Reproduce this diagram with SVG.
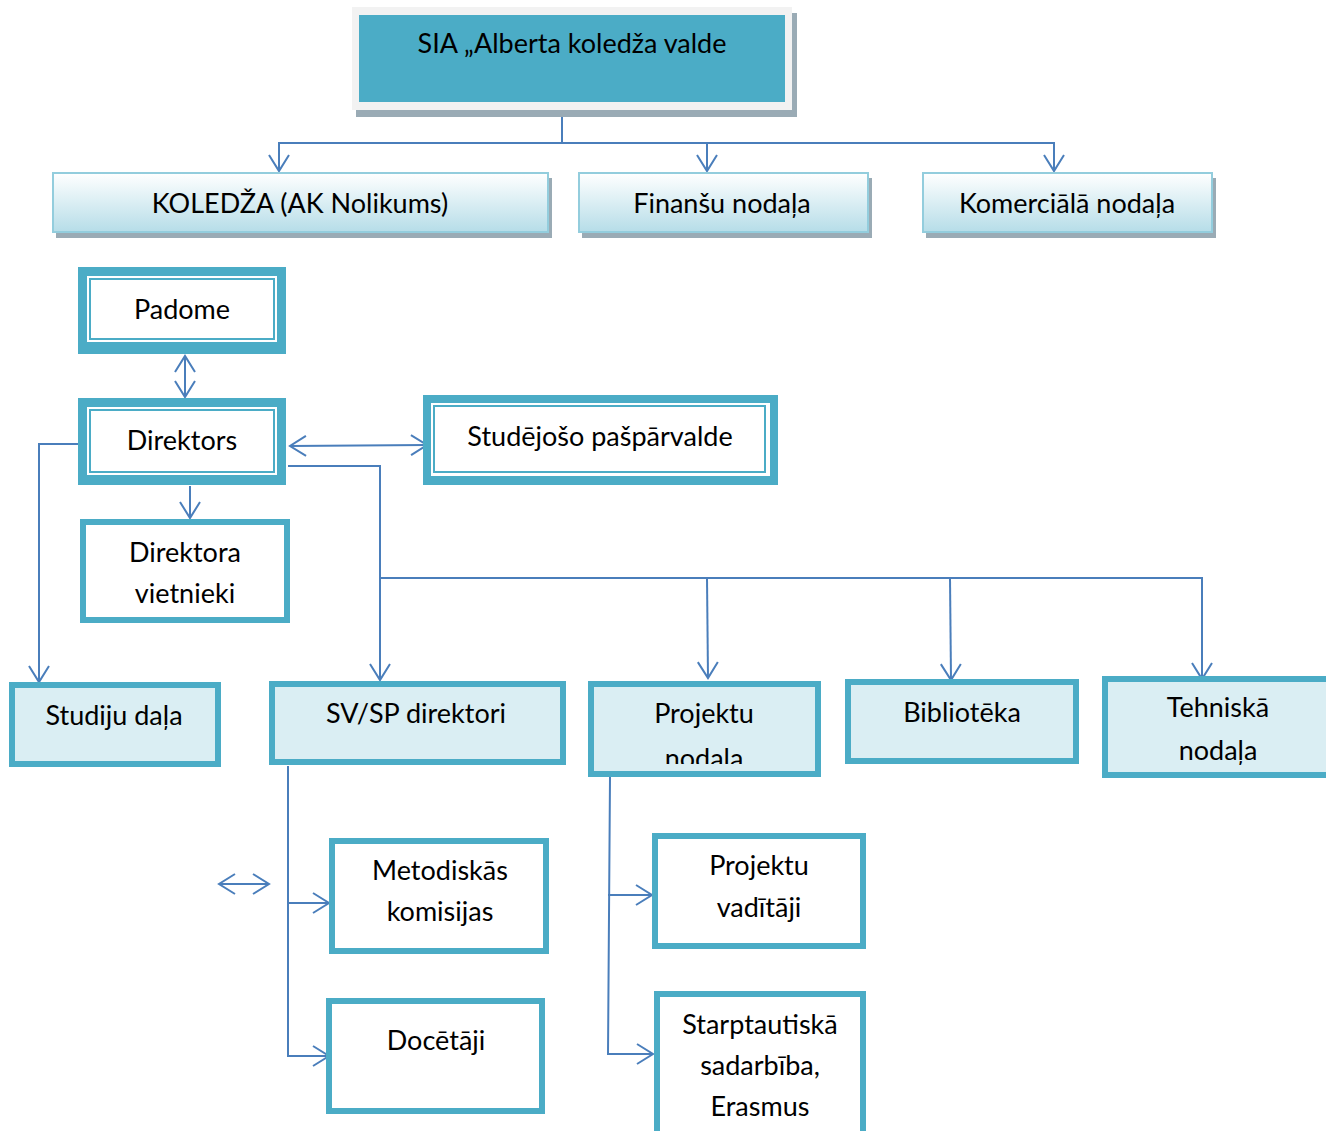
<svg xmlns="http://www.w3.org/2000/svg" width="1326" height="1131" viewBox="0 0 1326 1131">
<defs>
<style>
text{font-family:Lato,"Open Sans","Liberation Sans",sans-serif;font-size:27px;fill:#000;text-anchor:middle}
.c{fill:none;stroke:#4a7ebb;stroke-width:2}
.a{marker-end:url(#ah)}
.b{marker-start:url(#ah);marker-end:url(#ah)}
.sh{fill:#9aabb5}
.g{fill:url(#grad);stroke:#93cddd;stroke-width:2}
.tk{fill:#4bacc6}
.thin{fill:none;stroke:#4bacc6;stroke-width:2}
.lb{fill:#daeef3;stroke:#4bacc6;stroke-width:6}
.wb{fill:#fff;stroke:#4bacc6;stroke-width:6}
</style>
<linearGradient id="grad" x1="0" y1="0" x2="0" y2="1">
<stop offset="0" stop-color="#ffffff"/>
<stop offset="1" stop-color="#b6dde8"/>
</linearGradient>
<marker id="ah" viewBox="-18 -12 20 24" refX="0" refY="0" markerWidth="20" markerHeight="24" markerUnits="userSpaceOnUse" orient="auto-start-reverse">
<path d="M-16,-10 L0,0 L-16,10" fill="none" stroke="#4a7ebb" stroke-width="2"/>
</marker>
<clipPath id="clipPN"><rect x="592" y="684" width="225" height="80"/></clipPath>
</defs>

<g id="connectors">
<path class="c a" d="M562,110 V143 H279 V171"/>
<path class="c a" d="M562,143 H707 V171"/>
<path class="c a" d="M562,143 H1054 V171"/>
<path class="c b" d="M185,356 V397"/>
<path class="c b" d="M290,446 L427,445"/>
<path class="c a" d="M80,444 H39 V682"/>
<path class="c a" d="M190,486 V518"/>
<path class="c a" d="M288,466 H380 V680"/>
<path class="c a" d="M380,578 H1202 V679"/>
<path class="c a" d="M707,578 L708,678"/>
<path class="c a" d="M950,578 L951,680"/>
<path class="c a" d="M288,766 V1056 H329"/>
<path class="c a" d="M288,903 H329"/>
<path class="c a" d="M610,777 L608,1054 H653"/>
<path class="c a" d="M608,895 H652"/>
<path class="c b" d="M219,884 H269"/>
</g>

<g id="valde">
<rect class="sh" x="356" y="13" width="441" height="104"/>
<rect x="352" y="7" width="440" height="103" fill="#f2f2f2"/>
<rect x="359" y="15" width="426" height="87" fill="#4bacc6"/>
<text x="572" y="53">SIA „Alberta koledža valde</text>
</g>

<g id="koledza">
<rect class="sh" x="56" y="178" width="496" height="60"/>
<rect class="g" x="53" y="173" width="495" height="59"/>
<text x="300" y="213">KOLEDŽA (AK Nolikums)</text>
</g>

<g id="finansu">
<rect class="sh" x="582" y="178" width="290" height="60"/>
<rect class="g" x="579" y="173" width="289" height="59"/>
<text x="722" y="213">Finanšu nodaļa</text>
</g>

<g id="komerciala">
<rect class="sh" x="926" y="178" width="290" height="60"/>
<rect class="g" x="923" y="173" width="289" height="59"/>
<text x="1067" y="213">Komerciālā nodaļa</text>
</g>

<g id="padome">
<rect class="tk" x="78" y="267" width="208" height="87"/>
<rect x="87" y="276" width="190" height="66" fill="#fff"/>
<rect class="thin" x="90" y="279" width="184" height="60"/>
<text x="182" y="319">Padome</text>
</g>

<g id="direktors">
<rect class="tk" x="78" y="398" width="208" height="87"/>
<rect x="87" y="407" width="190" height="68" fill="#fff"/>
<rect class="thin" x="90" y="410" width="184" height="62"/>
<text x="182" y="450">Direktors</text>
</g>

<g id="studejoso">
<rect class="tk" x="423" y="395" width="355" height="90"/>
<rect x="431" y="403" width="339" height="73" fill="#fff"/>
<rect class="thin" x="434" y="406" width="331" height="66"/>
<text x="600" y="446">Studējošo pašpārvalde</text>
</g>

<g id="vietnieki">
<rect class="wb" x="83" y="522" width="204" height="98"/>
<text x="185" y="562">Direktora</text>
<text x="185" y="603">vietnieki</text>
</g>

<g id="studiju">
<rect class="lb" x="12" y="685" width="206" height="79"/>
<text x="114" y="725">Studiju daļa</text>
</g>

<g id="svsp">
<rect class="lb" x="272" y="684" width="291" height="78"/>
<text x="416" y="723">SV/SP direktori</text>
</g>

<g id="projektu-nodala">
<rect class="lb" x="591" y="684" width="227" height="90"/>
<text x="704" y="723">Projektu</text>
<text x="704" y="768" clip-path="url(#clipPN)">nodaļa</text>
</g>

<g id="biblioteka">
<rect class="lb" x="848" y="682" width="228" height="79"/>
<text x="962" y="722">Bibliotēka</text>
</g>

<g id="tehniska">
<rect class="lb" x="1105" y="679" width="240" height="96"/>
<text x="1218" y="717">Tehniskā</text>
<text x="1218" y="760">nodaļa</text>
</g>

<g id="metodiskas">
<rect class="wb" x="332" y="841" width="214" height="110"/>
<text x="440" y="880">Metodiskās</text>
<text x="440" y="921">komisijas</text>
</g>

<g id="docetaji">
<rect class="wb" x="329" y="1001" width="213" height="110"/>
<text x="436" y="1050">Docētāji</text>
</g>

<g id="projektu-vaditaji">
<rect class="wb" x="655" y="836" width="208" height="110"/>
<text x="759" y="875">Projektu</text>
<text x="759" y="917">vadītāji</text>
</g>

<g id="starptautiska">
<rect class="wb" x="657" y="994" width="206" height="150"/>
<text x="760" y="1034">Starptautiskā</text>
<text x="760" y="1075">sadarbība,</text>
<text x="760" y="1116">Erasmus</text>
</g>
</svg>
